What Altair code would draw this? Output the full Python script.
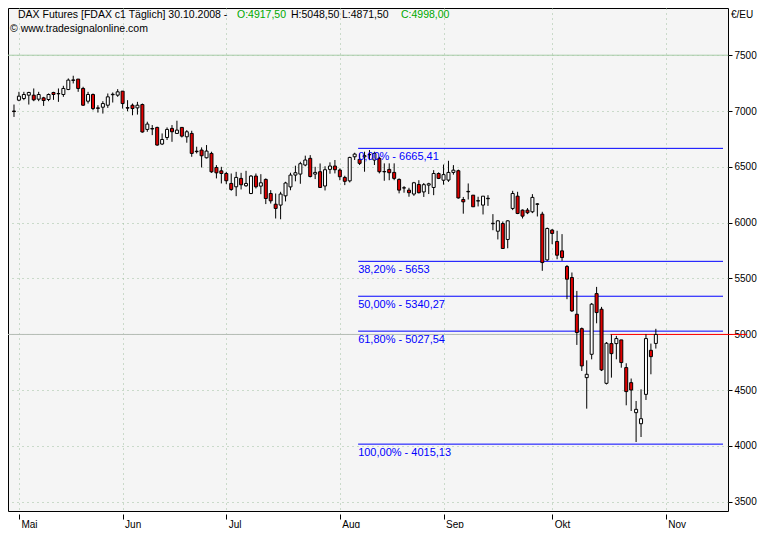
import altair as alt
import pandas as pd

opens = [7000, 7097, 7112, 7142, 7142, 7106, 7118, 7103, 7166, 7157,
         7148, 7193, 7274, 7286, 7202, 7088, 7148, 7028, 7034, 7052,
         7146, 7142, 7178, 7030, 7052, 7028, 7058, 6835, 6843, 6853,
         6704, 6763, 6844, 6799, 6853, 6769, 6799, 6640, 6650, 6581,
         6620, 6494, 6464, 6440, 6351, 6321, 6396, 6330, 6261, 6417,
         6327, 6387, 6261, 6165, 6157, 6240, 6320, 6426, 6435, 6516,
         6576, 6435, 6456, 6328, 6477, 6507, 6471, 6405, 6374, 6590,
         6567, 6590, 6611, 6561, 6576, 6458, 6477, 6450, 6387, 6310,
         6291, 6256, 6342, 6275, 6336, 6315, 6440, 6380, 6381, 6450,
         6465, 6207, 6276, 6246, 6193, 6157, 6214, 5990, 5923, 5992,
         5849, 6127, 6237, 6112, 6112, 6097, 6164, 6076, 5666, 5933,
         5831, 5747, 5607, 5508, 5179, 5050, 4611, 4820, 5364, 5224,
         4560, 4916, 4916, 4949, 4701, 4566, 4297, 4198, 4461, 4856,
         4917.5]
highs = [7058, 7172, 7172, 7172, 7202, 7172, 7127, 7157, 7172, 7202,
         7226, 7292, 7316, 7286, 7217, 7172, 7157, 7052, 7088, 7157,
         7166, 7196, 7178, 7097, 7067, 7082, 7067, 6904, 6874, 6859,
         6799, 6853, 6874, 6913, 6853, 6829, 6823, 6680, 6674, 6695,
         6635, 6515, 6500, 6455, 6440, 6455, 6446, 6464, 6426, 6440,
         6434, 6396, 6291, 6261, 6276, 6366, 6447, 6510, 6545, 6600,
         6605, 6500, 6530, 6505, 6540, 6561, 6485, 6420, 6590, 6626,
         6620, 6635, 6650, 6635, 6590, 6531, 6531, 6531, 6396, 6327,
         6312, 6365, 6380, 6355, 6357, 6470, 6450, 6520, 6554, 6515,
         6475, 6230, 6351, 6246, 6232, 6237, 6246, 6076, 6022, 6010,
         6022, 6285, 6276, 6118, 6130, 6255, 6175, 6097, 5956, 5942,
         5927, 5897, 5620, 5553, 5388, 5060, 4766, 5280, 5424, 5245,
         4930, 4997, 4985, 4949, 4740, 4603, 4402, 4506, 5000, 4916,
         5048.5]
lows = [6947, 7088, 7097, 7058, 7088, 7088, 7046, 7088, 7100, 7082,
        7127, 7187, 7247, 7172, 7046, 7067, 7007, 6986, 6977, 7028,
        7076, 7127, 7022, 6998, 6962, 6968, 6806, 6814, 6784, 6689,
        6695, 6740, 6724, 6799, 6763, 6716, 6590, 6620, 6494, 6575,
        6446, 6396, 6351, 6345, 6285, 6237, 6297, 6321, 6255, 6306,
        6255, 6166, 6171, 6037, 6030, 6190, 6290, 6370, 6348, 6505,
        6405, 6390, 6310, 6288, 6438, 6441, 6380, 6336, 6360, 6561,
        6516, 6456, 6560, 6516, 6441, 6375, 6380, 6380, 6262, 6268,
        6232, 6240, 6262, 6230, 6256, 6246, 6390, 6340, 6365, 6430,
        6215, 6080, 6207, 6142, 6145, 6073, 6150, 5932, 5849, 5765,
        5770, 6112, 6076, 6037, 6076, 6085, 6055, 5568, 5657, 5807,
        5672, 5657, 5314, 5200, 4904, 4671, 4333, 4775, 5098, 4670,
        4550, 4611, 4775, 4700, 4363, 4312, 4034, 4079, 4411, 4641,
        4871.5]
closes = [6995, 7133, 7148, 7166, 7100, 7148, 7094, 7148, 7148, 7154,
          7202, 7277, 7279, 7202, 7052, 7148, 7022, 7024, 7067, 7127,
          7150, 7172, 7067, 7026, 7022, 7052, 6812, 6883, 6839, 6695,
          6745, 6835, 6814, 6829, 6775, 6814, 6620, 6636, 6599, 6641,
          6455, 6446, 6440, 6375, 6297, 6405, 6339, 6351, 6417, 6321,
          6357, 6216, 6195, 6127, 6256, 6355, 6426, 6447, 6528, 6561,
          6413, 6450, 6315, 6474, 6507, 6474, 6411, 6370, 6584, 6614,
          6531, 6600, 6608, 6620, 6456, 6455, 6447, 6396, 6291, 6312,
          6268, 6357, 6268, 6340, 6348, 6440, 6396, 6430, 6450, 6470,
          6221, 6186, 6280, 6142, 6197, 6237, 6218, 5994, 6016, 5768,
          6016, 6261, 6082, 6058, 6088, 6226, 6168, 5642, 5947, 5903,
          5708, 5687, 5493, 5209, 5015, 4716, 4641, 5269, 5194, 4680,
          4919, 4826, 4961, 4746, 4486, 4500, 4327, 4243, 4961, 4799,
          4998]

month_ticks = [1, 22, 43, 66, 87, 109, 132]
month_labels = ["Mai", "Jun", "Jul", "Aug", "Sep", "Okt", "Nov"]
price_ticks = [3500, 4000, 4500, 5000, 5500, 6000, 6500, 7000, 7500]

fib_levels = [6665.41, 5653.0, 5340.27, 5027.54, 4015.13]
fib_labels = ["0,00% - 6665,41", "38,20% - 5653", "50,00% - 5340,27",
              "61,80% - 5027,54", "100,00% - 4015,13"]
fib_start = 69.7
x_end = 143.6
last_close = 4998.0
red_line_start = 120.8
red_line_end = 148.5
hlines = [7500, 4998]

FONT = "Liberation Sans"
W, H = 720, 503

df = pd.DataFrame({"i": list(range(len(opens))), "open": opens, "high": highs,
                   "low": lows, "close": closes})
df["dir"] = ["up" if c >= o else "down" for o, c in zip(opens, closes)]

xs = alt.Scale(domain=[-0.2, x_end], nice=False, zero=False)
ys = alt.Scale(domain=[3416, 7923], nice=False, zero=False)

label_expr = ("[" + ",".join(f"'{m}'" for m in month_labels) + "][indexof(["
              + ",".join(str(t) for t in month_ticks) + "], datum.value)]")

x_axis = alt.Axis(values=month_ticks, labelExpr=label_expr, title=None,
                  grid=True, gridColor="#9fbf9f", gridDash=[1, 4], gridWidth=1,
                  domain=False, ticks=True, tickSize=5, tickColor="#000000",
                  offset=3, labelAlign="left", labelBaseline="top", labelPadding=0,
                  labelOffset=2, labelFont=FONT, labelFontSize=10, labelColor="#000000")
y_axis = alt.Axis(values=price_ticks, orient="right", format="d", title=None,
                  grid=True, gridColor="#9fbf9f", gridDash=[1, 4], gridWidth=1,
                  domain=False, ticks=True, tickSize=4, tickColor="#000000",
                  labelPadding=2, labelFont=FONT, labelFontSize=10, labelColor="#000000")


def X(field):
    return alt.X(field, scale=xs, axis=x_axis)


def Y(field):
    return alt.Y(field, scale=ys, axis=y_axis)


base = alt.Chart(df)

hl_df = pd.DataFrame({"y": hlines, "c": ["#a8cca8", "#b4bcb4"]})
hl = alt.Chart(hl_df).mark_rule(strokeWidth=1).encode(
    y=Y("y:Q"),
    color=alt.Color("c:N", scale=None),
)

fib_df = pd.DataFrame({"level": fib_levels, "label": fib_labels,
                       "x0": [fib_start] * len(fib_levels), "x1": [x_end] * len(fib_levels)})
fib_lines = alt.Chart(fib_df).mark_rule(color="#0000ff", strokeWidth=1).encode(
    x=X("x0:Q"), x2="x1:Q", y=Y("level:Q"),
)
fib_text = alt.Chart(fib_df).mark_text(color="#0000ff", align="left", baseline="top",
                                       dy=3, dx=0, font=FONT, fontSize=11).encode(
    x=X("x0:Q"), y=Y("level:Q"), text="label:N",
)

red_df = pd.DataFrame({"x0": [red_line_start], "x1": [red_line_end], "y": [last_close]})
red_line = alt.Chart(red_df).mark_rule(color="#ff0000", strokeWidth=1, clip=False).encode(
    x=X("x0:Q"), x2="x1:Q", y=Y("y:Q"),
)

wicks = base.mark_rule(color="#000000", strokeWidth=1).encode(
    x=X("i:Q"), y=Y("low:Q"), y2="high:Q",
)
bodies = base.mark_bar(size=3, stroke="#000000", strokeWidth=1).encode(
    x=X("i:Q"), y=Y("open:Q"), y2="close:Q",
    color=alt.Color("dir:N", scale=alt.Scale(domain=["up", "down"], range=["#ffffff", "#e00000"]),
                    legend=None),
)

title_parts = [
    ("DAX Futures [FDAX c1  Täglich] 30.10.2008 - ", 10, "#000000"),
    ("O:4917,50", 229, "#00a800"),
    ("H:5048,50", 283, "#000000"),
    ("L:4871,50", 334, "#000000"),
    ("C:4998,00", 393, "#00a800"),
]
texts = []
for t, xp, col in title_parts:
    texts.append(alt.Chart(pd.DataFrame({"t": [t]})).mark_text(
        align="left", baseline="top", font=FONT, fontSize=10.5, color=col).encode(
        x=alt.value(xp), y=alt.value(2), text="t:N"))
texts.append(alt.Chart(pd.DataFrame({"t": ["© www.tradesignalonline.com"]})).mark_text(
    align="left", baseline="top", font=FONT, fontSize=10.5, color="#000000").encode(
    x=alt.value(2), y=alt.value(16), text="t:N"))
texts.append(alt.Chart(pd.DataFrame({"t": ["€/EU"]})).mark_text(
    align="left", baseline="top", font=FONT, fontSize=10, color="#000000").encode(
    x=alt.value(723), y=alt.value(2), text="t:N"))

chart = alt.layer(hl, fib_lines, red_line, wicks, bodies, fib_text, *texts).properties(
    width=W, height=H,
    autosize=alt.AutoSizeParams(type="none"),
    padding={"left": 0, "top": 0, "right": 33, "bottom": 17},
    background="#ffffff",
).configure_view(fill="#f5f5f5", stroke="#000000", strokeWidth=1)

chart.save("out.html", embed_options={"renderer": "svg", "actions": False})
